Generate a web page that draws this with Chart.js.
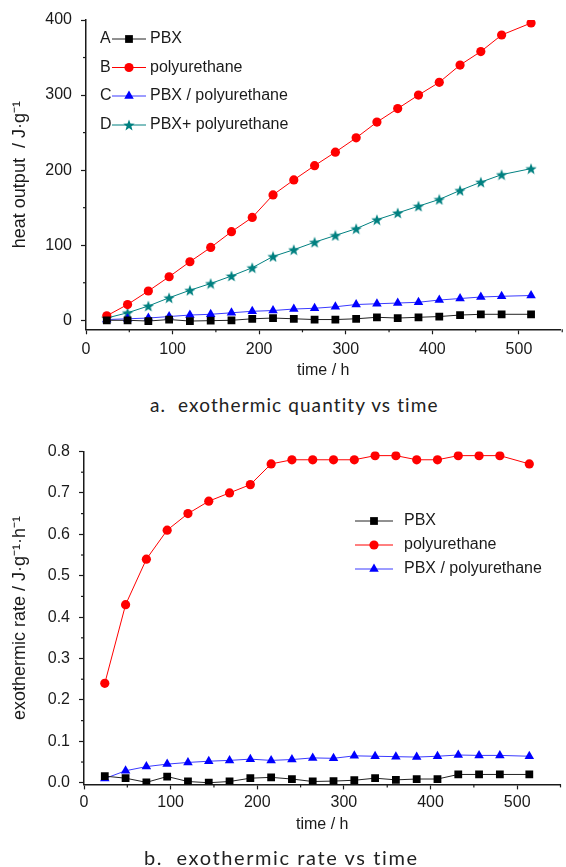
<!DOCTYPE html>
<html>
<head>
<meta charset="utf-8">
<script src="https://cdn.jsdelivr.net/npm/chart.js@4.4.1/dist/chart.umd.min.js"></script>
<style>
  html, body { margin: 0; padding: 0; background: #fff; width: 566px; height: 867px; overflow: hidden; }
  .box { position: absolute; left: 0; width: 566px; }
  #boxA { top: 0; height: 390px; }
  #boxB { top: 430px; height: 430px; }
  .cap { position: absolute; white-space: nowrap; font-family: Lato, "Open Sans", sans-serif; font-size: 19px; letter-spacing: 1.1px; color: #222; }
  #capA { top: 393px; left: 150px; }
  #capB { top: 845px; left: 144px; letter-spacing: 1.6px; font-size: 20px; }
</style>
</head>
<body>
<div class="box" id="boxA"><canvas id="graficoA"></canvas></div>
<div class="cap" id="capA">a.&nbsp; exothermic quantity vs time</div>
<div class="box" id="boxB"><canvas id="graficoB"></canvas></div>
<div class="cap" id="capB">b.&nbsp; exothermic rate vs time</div>

<script>
// time (h), same for every series
const tempo = [24, 48, 72, 96, 120, 144, 168, 192, 216, 240, 264, 288, 312, 336, 360, 384, 408, 432, 456, 480, 514];

// a. heat output, J/g
const calorPBX   = [0, 0, -1, 1, -1, -0.5, 0, 2, 3, 2, 1, 1, 2, 4, 3, 4, 5, 7, 8, 8, 8];
const calorPU    = [6, 21, 39, 58, 78, 97, 118, 137, 167, 187, 206, 224, 243, 264, 282, 300, 317, 340, 358, 380, 396];
const calorMist  = [1, 2, 3, 5, 7, 8, 10, 12, 13, 15, 16, 18, 21, 22, 23, 24, 27, 29, 31, 32, 33];
const calorSoma  = [3, 10, 19, 30, 40, 49, 59, 70, 85, 94, 104, 113, 122, 134, 143, 152, 161, 173, 184, 194, 202];

// b. exothermic rate, J/(g h)
const taxaPBX  = [0.016, 0.011, 0.001, 0.015, 0.003, 0.0, 0.003, 0.011, 0.013, 0.009, 0.003, 0.004, 0.006, 0.011, 0.007, 0.009, 0.009, 0.020, 0.020, 0.020, 0.020];
const taxaPU   = [0.24, 0.43, 0.54, 0.61, 0.65, 0.68, 0.70, 0.72, 0.77, 0.78, 0.78, 0.78, 0.78, 0.79, 0.79, 0.78, 0.78, 0.79, 0.79, 0.79, 0.77];
const taxaMist = [0.010, 0.029, 0.039, 0.045, 0.049, 0.052, 0.054, 0.057, 0.054, 0.056, 0.060, 0.059, 0.065, 0.064, 0.063, 0.062, 0.064, 0.067, 0.066, 0.066, 0.064];

// axis ticks
const ticksX      = [0, 100, 200, 300, 400, 500];
const menoresX    = [50, 150, 250, 350, 450, 550];
const ticksYA     = [0, 100, 200, 300, 400];
const menoresYA   = [50, 150, 250, 350];
const ticksYB     = [0, 0.1, 0.2, 0.3, 0.4, 0.5, 0.6, 0.7, 0.8];
const menoresYB   = [0.05, 0.15, 0.25, 0.35, 0.45, 0.55, 0.65, 0.75];

const fonte = '"Liberation Sans Narrow", "Arial Narrow", "Liberation Sans", sans-serif';
const preto = '#1a1a1a';

// filled 5-point star for the teal series
function criarEstrela(cor) {
  const c = document.createElement('canvas');
  c.width = 12; c.height = 12;
  const g = c.getContext('2d');
  g.fillStyle = cor;
  g.beginPath();
  for (let i = 0; i < 10; i++) {
    const r = i % 2 === 0 ? 6 : 2.5;
    const a = -Math.PI / 2 + i * Math.PI / 5;
    const px = 6 + r * Math.cos(a), py = 6.6 + r * Math.sin(a);
    if (i === 0) g.moveTo(px, py); else g.lineTo(px, py);
  }
  g.closePath();
  g.fill();
  return c;
}

function serie(label, dados, linha, cor, estilo, raio) {
  return {
    label: label,
    data: tempo.map((t, i) => ({ x: t, y: dados[i] })),
    borderColor: linha,
    borderWidth: 1,
    backgroundColor: cor,
    pointBackgroundColor: cor,
    pointBorderColor: cor,
    pointBorderWidth: 0,
    pointStyle: estilo,
    pointRadius: raio,
    tension: 0
  };
}

// short minor ticks, like Origin draws them
const minorTicks = {
  id: 'minorTicks',
  afterDraw(chart, args, opts) {
    const ctx = chart.ctx;
    const sx = chart.scales.x, sy = chart.scales.y;
    ctx.save();
    ctx.strokeStyle = preto;
    ctx.lineWidth = 1.2;
    for (const v of opts.x || []) {
      const px = sx.getPixelForValue(v);
      if (px > chart.width) continue;
      ctx.beginPath(); ctx.moveTo(px, sx.top); ctx.lineTo(px, sx.top + 3); ctx.stroke();
    }
    for (const v of opts.y || []) {
      const py = sy.getPixelForValue(v);
      ctx.beginPath(); ctx.moveTo(sy.right, py); ctx.lineTo(sy.right - 3, py); ctx.stroke();
    }
    ctx.restore();
  }
};

// legend drawn by hand (letters + line through marker)
const legenda = {
  id: 'legenda',
  afterDraw(chart, args, opts) {
    const ctx = chart.ctx;
    ctx.save();
    ctx.font = '16px ' + fonte;
    ctx.textBaseline = 'middle';
    ctx.textAlign = 'left';
    chart.data.datasets.forEach((ds, i) => {
      const y = opts.linhas[i];
      if (opts.letras) {
        ctx.fillStyle = preto;
        ctx.fillText(opts.letras[i], opts.xLetra, y);
      }
      ctx.strokeStyle = ds.borderColor;
      ctx.lineWidth = 1;
      ctx.beginPath(); ctx.moveTo(opts.x0, y); ctx.lineTo(opts.x1, y); ctx.stroke();
      ctx.fillStyle = ds.pointBackgroundColor;
      ctx.strokeStyle = ds.pointBorderColor;
      Chart.helpers.drawPoint(ctx, { pointStyle: ds.pointStyle, radius: ds.pointRadius, rotation: 0, borderWidth: 0 }, (opts.x0 + opts.x1) / 2, y);
      ctx.fillStyle = preto;
      ctx.fillText(ds.label, opts.xTexto, y);
    });
    ctx.restore();
  }
};

function eixos(cfg) {
  return {
    x: {
      type: 'linear', min: 0, max: cfg.xMax,
      afterBuildTicks: s => { s.ticks = ticksX.map(v => ({ value: v })); },
      afterFit: s => { s.height = cfg.altX; },
      border: { display: true, color: preto, width: 1.5 },
      grid: { display: true, drawOnChartArea: false, drawTicks: true, tickLength: 5, tickWidth: 1.2, tickColor: preto },
      ticks: { color: preto, font: { family: fonte, size: 16 }, padding: cfg.padX, maxRotation: 0 },
      title: { display: true, text: 'time / h', color: preto, font: { family: fonte, size: 16 }, padding: { top: 0, bottom: cfg.tituloX } }
    },
    y: {
      type: 'linear', min: cfg.yMin, max: cfg.yMax,
      afterBuildTicks: s => { s.ticks = cfg.ticksY.map(v => ({ value: v })); },
      afterFit: s => { s.width = cfg.largY; },
      border: { display: true, color: preto, width: 1.5 },
      grid: { display: true, drawOnChartArea: false, drawTicks: true, tickLength: 5, tickWidth: 1.2, tickColor: preto },
      ticks: { color: preto, font: { family: fonte, size: 16 }, padding: 9, callback: cfg.fmtY },
      title: { display: true, text: cfg.tituloY, color: preto, font: { family: fonte, size: 18 }, padding: { top: 9, bottom: 0 } }
    }
  };
}

const estrela = criarEstrela('#008080');

new Chart(document.getElementById('graficoA'), {
  type: 'line',
  data: {
    datasets: [
      serie('PBX', calorPBX, '#222222', '#000000', 'rect', 5.5),
      serie('polyurethane', calorPU, '#ff0000', '#ff0000', 'circle', 4.6),
      serie('PBX / polyurethane', calorMist, '#3a3aff', '#0000ff', 'triangle', 5.5),
      serie('PBX+ polyurethane', calorSoma, '#008080', '#008080', estrela, 5)
    ]
  },
  options: {
    responsive: true, maintainAspectRatio: false, animation: false, events: [],
    layout: { padding: { left: 0, top: 20, right: 0, bottom: 0 } },
    scales: eixos({ xMax: 548, altX: 60.7, padX: 6, tituloX: 10, yMin: -12, yMax: 400, ticksY: ticksYA, largY: 86,
                    tituloY: 'heat output  / J·g⁻¹', fmtY: v => v }),
    plugins: {
      legend: { display: false }, tooltip: { enabled: false },
      minorTicks: { x: menoresX, y: menoresYA },
      legenda: { letras: ['A', 'B', 'C', 'D'], linhas: [39, 67.5, 96, 125], xLetra: 100, x0: 112, x1: 146, xTexto: 150 }
    }
  },
  plugins: [minorTicks, legenda]
});

new Chart(document.getElementById('graficoB'), {
  type: 'line',
  data: {
    datasets: [
      serie('PBX', taxaPBX, '#222222', '#000000', 'rect', 5.5),
      serie('polyurethane', taxaPU, '#ff0000', '#ff0000', 'circle', 4.6),
      serie('PBX / polyurethane', taxaMist, '#3a3aff', '#0000ff', 'triangle', 5.5)
    ]
  },
  options: {
    responsive: true, maintainAspectRatio: false, animation: false, events: [],
    layout: { padding: { left: 0, top: 21.5, right: 4.3, bottom: 0 } },
    scales: eixos({ xMax: 550, altX: 75.6, padX: 4, tituloX: 26, yMin: -0.004, yMax: 0.8, ticksY: ticksYB, largY: 84,
                    tituloY: 'exothermic rate / J·g⁻¹·h⁻¹', fmtY: v => v.toFixed(1) }),
    plugins: {
      legend: { display: false }, tooltip: { enabled: false },
      minorTicks: { x: menoresX, y: menoresYB },
      legenda: { linhas: [521, 545, 569].map(v => v - 430), x0: 355, x1: 393, xTexto: 404 }
    }
  },
  plugins: [minorTicks, legenda]
});
</script>
</body>
</html>
